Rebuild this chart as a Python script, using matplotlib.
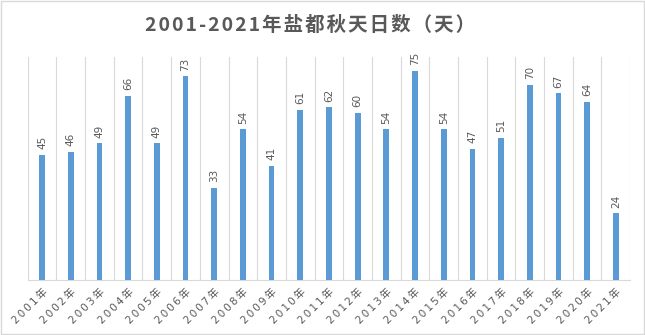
import matplotlib
matplotlib.use("Agg")
import matplotlib.pyplot as plt
import matplotlib.transforms as mtrans

plt.rcParams['font.family'] = ['Noto Sans CJK SC', 'DejaVu Sans']

years = [f"{y}年" for y in range(2001, 2022)]
days = [45, 46, 49, 66, 49, 73, 33, 54, 41, 61, 62, 60, 54, 75, 54, 47, 51, 70, 67, 64, 24]
title = "2001-2021年盐都秋天日数（天）"

def spaced(s, sep):
    return sep.join(list(s))

fig = plt.figure(figsize=(6.45, 3.35), dpi=100)
fig.patch.set_facecolor('white')
ax = fig.add_axes([0.043, 0.164, 0.934, 0.666])

x = list(range(len(days)))
ax.bar(x, days, width=0.2, color='#5B9BD5', zorder=3)
ax.set_xlim(-0.5, len(days) - 0.5)
ax.set_ylim(0, 80)

for xi, v in zip(x, days):
    ax.text(xi, v + 2, str(v), rotation=90, ha='center', va='bottom',
            fontsize=7.5, color='#595959', family='DejaVu Sans')

for b in range(len(days) + 1):
    ax.axvline(b - 0.5, color='#D9D9D9', lw=0.8, zorder=1)

ax.set_yticks([])
ax.set_xticks(x)
ax.set_xticklabels([spaced(y, '\u2009') for y in years], rotation=45, ha='right',
                   rotation_mode='anchor', fontsize=7.5, color='#595959',
                   family=['DejaVu Sans', 'Noto Sans CJK SC'])
offset = mtrans.ScaledTranslation(-5/72, 0, fig.dpi_scale_trans)
for lbl in ax.get_xticklabels():
    lbl.set_transform(lbl.get_transform() + offset)
ax.tick_params(axis='x', length=0, pad=5)
for s in ['top', 'left', 'right']:
    ax.spines[s].set_visible(False)
ax.spines['bottom'].set_color('#D9D9D9')

fig.text(0.48, 0.925, spaced(title, '\u200a'), ha='center', va='center',
         fontsize=14, fontweight='bold', color='#595959',
         family=['Noto Sans CJK SC', 'DejaVu Sans'])

fig.add_artist(plt.Rectangle((0.002, 0.003), 0.996, 0.994, transform=fig.transFigure,
                             fill=False, edgecolor='#D9D9D9', lw=1))

fig.savefig("out.png", dpi=100, facecolor='white')
